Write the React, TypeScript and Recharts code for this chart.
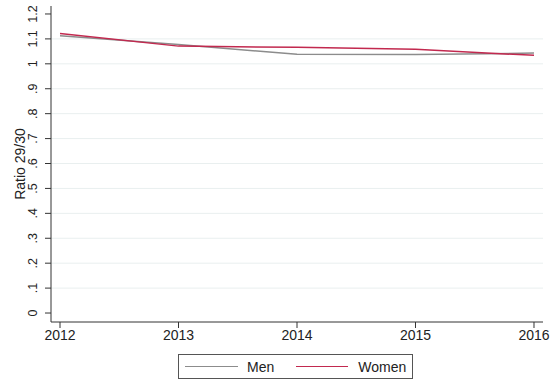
import React from 'react';
import { LineChart, Line, XAxis, YAxis, ReferenceLine } from 'recharts';

const years = [2012, 2013, 2014, 2015, 2016];
const men = [1.113, 1.078, 1.038, 1.037, 1.043];
const women = [1.122, 1.071, 1.066, 1.058, 1.034];
const yTicks = [0, 0.1, 0.2, 0.3, 0.4, 0.5, 0.6, 0.7, 0.8, 0.9, 1, 1.1, 1.2];
const gridValues = [0.1, 0.2, 0.3, 0.4, 0.5, 0.6, 0.7, 0.8, 0.9, 1, 1.1];

const data = years.map((year, i) => ({ year, men: men[i], women: women[i] }));

const MEN_COLOR = '#8c8c8c';
const WOMEN_COLOR = '#c2294f';
const FONT = '"Liberation Sans", Arial, sans-serif';

// stata style: ".9" instead of "0.9"
const fmt = (v: number) => {
  const s = String(Math.round(v * 10) / 10);
  return s.startsWith('0.') ? s.slice(1) : s;
};

const YTick = (props: any) => {
  const { x, y, payload } = props;
  return (
    <text
      x={x}
      y={y}
      transform={`rotate(-90 ${x} ${y})`}
      textAnchor="middle"
      dy={-6}
      fontSize={12.5}
      fontFamily={FONT}
      fill="#222"
    >
      {fmt(payload.value)}
    </text>
  );
};

const App: React.FC = () => {
  return (
    <div style={{ position: 'absolute', left: 0, top: 0, width: 556, height: 380, background: '#fff' }}>
      <LineChart width={556} height={380} data={data} margin={{ top: 6, right: 13, bottom: 36, left: 10 }}>
        {gridValues.map((v) => (
          <ReferenceLine key={v} y={v} stroke="#e9efef" strokeWidth={1} />
        ))}
        <XAxis
          dataKey="year"
          type="number"
          domain={[2011.924, 2016.076]}
          ticks={years}
          allowDataOverflow
          height={22}
          tickSize={6}
          stroke="#333"
          tick={{ fontSize: 14, fontFamily: FONT, fill: '#222' }}
        />
        <YAxis
          type="number"
          domain={[-0.036, 1.232]}
          ticks={yTicks}
          allowDataOverflow
          width={41}
          tickSize={6}
          stroke="#333"
          tick={<YTick />}
          label={{
            value: 'Ratio 29/30',
            angle: -90,
            position: 'insideLeft',
            offset: 10,
            style: { fontSize: 14, fontFamily: FONT, fill: '#222', textAnchor: 'middle' },
          }}
        />
        <Line dataKey="men" stroke={MEN_COLOR} strokeWidth={1.5} dot={false} isAnimationActive={false} />
        <Line dataKey="women" stroke={WOMEN_COLOR} strokeWidth={1.5} dot={false} isAnimationActive={false} />
      </LineChart>
      <div
        style={{
          position: 'absolute',
          left: 178,
          top: 354,
          width: 235,
          height: 25,
          border: '1px solid #555',
          boxSizing: 'border-box',
          fontFamily: FONT,
          fontSize: 14,
          color: '#222',
          display: 'flex',
          alignItems: 'center',
        }}
      >
        <span style={{ display: 'inline-block', width: 53, borderTop: `1.5px solid ${MEN_COLOR}`, marginLeft: 6 }} />
        <span style={{ marginLeft: 9 }}>Men</span>
        <span style={{ display: 'inline-block', width: 52, borderTop: `1.5px solid ${WOMEN_COLOR}`, marginLeft: 22 }} />
        <span style={{ marginLeft: 10 }}>Women</span>
      </div>
    </div>
  );
};

export default App;
